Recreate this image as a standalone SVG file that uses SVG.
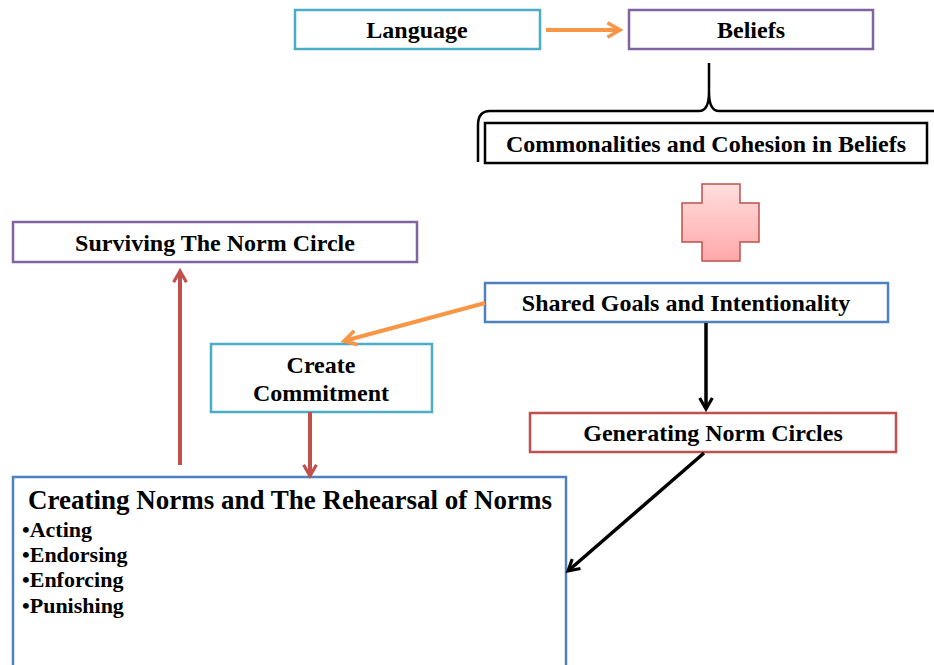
<svg xmlns="http://www.w3.org/2000/svg" width="934" height="665" viewBox="0 0 934 665">
<defs>
<style>
.box{fill:#fff;stroke-width:2.5}
.t{font-family:"Liberation Serif","Times New Roman",serif;font-weight:bold;fill:#000;text-anchor:middle}
.lbl{font-size:24px}
.cyan{stroke:#4bacc6}
.purple{stroke:#8064a2}
.blue{stroke:#4f81bd}
.red{stroke:#c0504d}
.black{stroke:#000}
</style>
<linearGradient id="pg" x1="0" y1="0" x2="0" y2="1">
<stop offset="0" stop-color="#ffdede"/>
<stop offset="1" stop-color="#ffa8a8"/>
</linearGradient>
<marker id="ao" viewBox="0 0 10 10" refX="8" refY="5" markerWidth="4.5" markerHeight="4.5" orient="auto" markerUnits="strokeWidth"><path d="M1,1 L8,5 L1,9" fill="none" stroke="#f79646" stroke-width="2"/></marker>
<marker id="ar" viewBox="0 0 10 10" refX="8" refY="5" markerWidth="4" markerHeight="4" orient="auto" markerUnits="strokeWidth"><path d="M1,1 L8,5 L1,9" fill="none" stroke="#c0504d" stroke-width="2"/></marker>
<marker id="ak" viewBox="0 0 10 10" refX="8" refY="5" markerWidth="4.5" markerHeight="4.5" orient="auto" markerUnits="strokeWidth"><path d="M1,1 L8,5 L1,9" fill="none" stroke="#000" stroke-width="2"/></marker>
</defs>
<rect width="934" height="665" fill="#fff"/>

<g id="language"><rect class="box cyan" x="295" y="10" width="245" height="39"/><text class="t lbl" x="417" y="38">Language</text></g>
<g id="beliefs"><rect class="box purple" x="629" y="10" width="244" height="39"/><text class="t lbl" x="751" y="38">Beliefs</text></g>
<g id="brace"><path d="M709,63 L709,92 Q709,111 699,111 L490,111 Q478,111 478,125 L478,162 M709,92 Q709,111 719,111 L934,111" fill="none" stroke="#000" stroke-width="2.5"/></g>
<g id="commonalities"><rect class="box black" x="485" y="123" width="442" height="40"/><text class="t lbl" x="706" y="152">Commonalities and Cohesion in Beliefs</text></g>
<g id="plus"><path d="M702,184 H740 V203 H759 V242 H740 V261 H702 V242 H682 V203 H702 Z" fill="url(#pg)" stroke="#c0504d" stroke-width="1.5"/></g>
<g id="surviving"><rect class="box purple" x="13" y="222" width="404" height="40"/><text class="t lbl" x="215" y="251">Surviving The Norm Circle</text></g>
<g id="shared"><rect class="box blue" x="485" y="283" width="403" height="39"/><text class="t lbl" x="686" y="311">Shared Goals and Intentionality</text></g>
<g id="commitment"><rect class="box cyan" x="211" y="344" width="221" height="68"/><text class="t lbl" x="321" y="373">Create</text><text class="t lbl" x="321" y="401">Commitment</text></g>
<g id="generating"><rect class="box red" x="530" y="413" width="366" height="39"/><text class="t lbl" x="713" y="441">Generating Norm Circles</text></g>
<g id="creating"><rect class="box blue" x="13" y="477" width="553" height="200"/>
<text class="t" x="290" y="509" font-size="27">Creating Norms and The Rehearsal of Norms</text>
<text class="t" font-size="22" style="text-anchor:start"><tspan x="22" y="537">•Acting</tspan><tspan x="22" y="562">•Endorsing</tspan><tspan x="22" y="587">•Enforcing</tspan><tspan x="22" y="613">•Punishing</tspan></text>
</g>

<g id="connectors" fill="none">
<line x1="546" y1="30" x2="620" y2="30" stroke="#f79646" stroke-width="4" marker-end="url(#ao)"/>
<line x1="485" y1="303" x2="344" y2="341" stroke="#f79646" stroke-width="4" marker-end="url(#ao)"/>
<line x1="180" y1="465" x2="180" y2="271" stroke="#c0504d" stroke-width="4" marker-end="url(#ar)"/>
<line x1="310" y1="412" x2="310" y2="476" stroke="#c0504d" stroke-width="4" marker-end="url(#ar)"/>
<line x1="706" y1="323" x2="706" y2="409" stroke="#000" stroke-width="3.5" marker-end="url(#ak)"/>
<line x1="704" y1="453" x2="568" y2="571" stroke="#000" stroke-width="3.5" marker-end="url(#ak)"/>
</g>
</svg>
